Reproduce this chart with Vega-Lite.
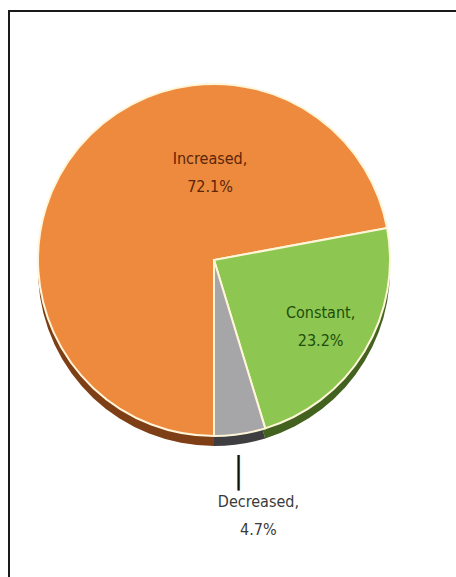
{
  "$schema": "https://vega.github.io/schema/vega-lite/v6.json",
  "autosize": "none",
  "width": 490,
  "height": 600,
  "padding": {"left": 9, "top": 11, "right": 0, "bottom": 0},
  "background": "white",
  "view": {"stroke": "#1a1a1a", "strokeWidth": 2, "fill": "white"},
  "config": {"view": {"stroke": "#1a1a1a", "strokeWidth": 2}},
  "data": {
    "values": [
      {"cat": "Increased", "value": 72.1, "ord": 1, "label": "Increased,\n72.1%"},
      {"cat": "Constant", "value": 23.2, "ord": 2, "label": "Constant,\n23.2%"},
      {"cat": "Decreased", "value": 4.7, "ord": 3, "label": "Decreased,\n4.7%"}
    ]
  },
  "encoding": {
    "theta": {"field": "value", "type": "quantitative", "stack": true, "scale": {"range": [3.14159265, 9.42477796]}},
    "order": {"field": "ord", "type": "quantitative"},
    "detail": {"field": "cat", "type": "nominal"}
  },
  "layer": [
    {
      "mark": {"type": "arc", "outerRadius": 176, "xOffset": -40, "yOffset": -41},
      "encoding": {
        "fill": {"field": "cat", "type": "nominal", "legend": null,
          "scale": {"domain": ["Increased", "Constant", "Decreased"], "range": ["#7e3f16", "#43621f", "#3e3e40"]}}
      }
    },
    {
      "mark": {"type": "arc", "outerRadius": 176, "xOffset": -40, "yOffset": -51, "stroke": "#FFF6DA", "strokeWidth": 2},
      "encoding": {
        "color": {"field": "cat", "type": "nominal", "legend": null,
          "scale": {"domain": ["Increased", "Constant", "Decreased"], "range": ["#ED8A3E", "#8DC751", "#A6A6A9"]}}
      }
    },
    {
      "mark": {"type": "text", "radius": 0, "xOffset": -40, "yOffset": -51, "dx": -4, "dy": -101, "lineBreak": "\n", "lineHeight": 28, "font": "'Liberation Sans Narrow', 'DejaVu Sans Condensed', sans-serif", "fontSize": 16, "color": "#5a2608", "align": "center", "baseline": "middle"},
      "encoding": {
        "text": {"condition": {"test": "datum.cat === 'Increased'", "field": "label"}, "value": ""}
      }
    },
    {
      "mark": {"type": "text", "radius": 126, "xOffset": -40, "yOffset": -51, "dx": -1, "dy": -12, "lineBreak": "\n", "lineHeight": 28, "font": "'Liberation Sans Narrow', 'DejaVu Sans Condensed', sans-serif", "fontSize": 16, "color": "#1f4d0c", "align": "center", "baseline": "middle"},
      "encoding": {
        "text": {"condition": {"test": "datum.cat === 'Constant'", "field": "label"}, "value": ""}
      }
    },
    {
      "mark": {"type": "text", "radius": 261, "xOffset": -40, "yOffset": -51, "dx": 6, "dy": -16, "lineBreak": "\n", "lineHeight": 28, "font": "'Liberation Sans Narrow', 'DejaVu Sans Condensed', sans-serif", "fontSize": 16, "color": "#3a3a3a", "align": "center", "baseline": "middle"},
      "encoding": {
        "text": {"condition": {"test": "datum.cat === 'Decreased'", "field": "label"}, "value": ""}
      }
    },
    {
      "mark": {"type": "text", "radius": 214, "xOffset": -40, "yOffset": -51, "dx": -7, "dy": 2, "font": "DejaVu Sans", "fontSize": 30, "color": "#111111", "align": "center", "baseline": "middle"},
      "encoding": {
        "text": {"condition": {"test": "datum.cat === 'Decreased'", "value": "│"}, "value": ""}
      }
    }
  ]
}
